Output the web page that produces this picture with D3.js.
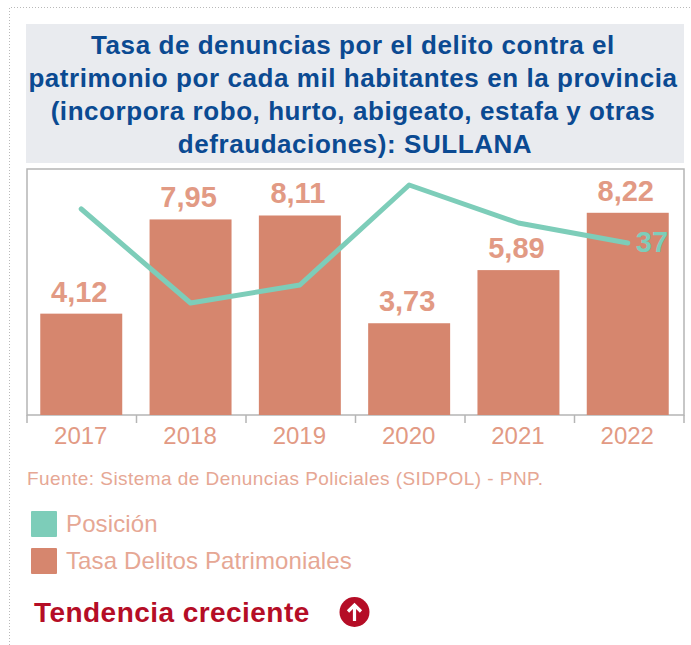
<!DOCTYPE html>
<html>
<head>
<meta charset="utf-8">
<script src="https://cdn.jsdelivr.net/npm/d3@7"></script>
<style>
  html, body { margin: 0; padding: 0; background: #fff; }
  svg { display: block; font-family: 'Liberation Sans', Arial, sans-serif; }
</style>
</head>
<body>
<div id="chart"></div>
<script>
const years = ['2017', '2018', '2019', '2020', '2021', '2022']
const tasa = [4.12, 7.95, 8.11, 3.73, 5.89, 8.22]
const posicion = [20, 67, 58, 8, 27, 37]
const titleLines = [
  'Tasa de denuncias por el delito contra el',
  'patrimonio por cada mil habitantes en la provincia',
  '(incorpora robo, hurto, abigeato, estafa y otras',
  'defraudaciones): SULLANA'
]
const legendItems = ['Posición', 'Tasa Delitos Patrimoniales']
const fuente = 'Fuente: Sistema de Denuncias Policiales (SIDPOL) - PNP.'
const tendencia = 'Tendencia creciente'

const width = 691
const height = 645
const salmon = '#d6866e'
const salmonText = '#e29a84'
const teal = '#7dcdb9'
const plot = { left: 27, right: 684, top: 169, bottom: 415 }

const svg = d3.select('#chart').append('svg')
  .attr('width', width)
  .attr('height', height)

// dotted frame of the page, open on the right and bottom
svg.append('path')
  .attr('d', `M9.5,${height} V7.5 H${width}`)
  .attr('fill', 'none')
  .attr('stroke', '#b9b9b9')
  .attr('stroke-dasharray', '1 2')

// title
svg.append('rect')
  .attr('x', 26).attr('y', 24)
  .attr('width', 658).attr('height', 139)
  .attr('fill', '#e9ebef')

svg.append('g').selectAll('text')
  .data(titleLines).enter().append('text')
    .text(d => d)
    .attr('x', (d, i) => i === 3 ? 355 : 353)
    .attr('y', (d, i) => 54 + i * 33)
    .attr('text-anchor', 'middle')
    .attr('font-size', 26)
    .attr('font-weight', 700)
    .attr('letter-spacing', 0.56)
    .attr('fill', '#0b4a92')

// scales
const x = d3.scaleBand()
  .domain(years)
  .range([26.6, 682.4])
  .paddingInner(0.25)
  .paddingOuter(0.125)

const y = d3.scaleLinear().domain([0, 10]).range([plot.bottom, plot.top])
const yPos = d3.scaleLinear().domain([0, 123]).range([plot.top, plot.bottom])

// plot border
svg.append('rect')
  .attr('x', plot.left).attr('y', plot.top)
  .attr('width', plot.right - plot.left).attr('height', plot.bottom - plot.top)
  .attr('fill', 'none')
  .attr('stroke', '#b5b5b5')
  .attr('stroke-width', 1.5)

// bars
svg.append('g').selectAll('rect')
  .data(years).enter().append('rect')
    .attr('x', d => x(d))
    .attr('y', (d, i) => y(tasa[i]))
    .attr('width', x.bandwidth())
    .attr('height', (d, i) => plot.bottom - y(tasa[i]))
    .attr('fill', salmon)

svg.append('g').selectAll('text')
  .data(years).enter().append('text')
    .text((d, i) => tasa[i].toFixed(2).replace('.', ','))
    .attr('x', d => x(d) + x.bandwidth() / 2 - 2)
    .attr('y', (d, i) => y(tasa[i]) - 12)
    .attr('text-anchor', 'middle')
    .attr('font-size', 29)
    .attr('font-weight', 700)
    .attr('fill', salmonText)

// x axis
const xAxis = d3.axisBottom(x).tickSize(0).tickPadding(12)
const axisG = svg.append('g')
  .attr('transform', `translate(-0.5, ${plot.bottom})`)
  .call(xAxis)
axisG.select('.domain').remove()
axisG.selectAll('text')
  .attr('font-size', 24)
  .attr('font-family', "'Liberation Sans', Arial, sans-serif")
  .attr('fill', salmonText)

const tickStep = (plot.right - plot.left) / years.length
svg.append('g').selectAll('line')
  .data(d3.range(years.length + 1)).enter().append('line')
    .attr('x1', d => plot.left + d * tickStep)
    .attr('x2', d => plot.left + d * tickStep)
    .attr('y1', plot.bottom)
    .attr('y2', plot.bottom + 8)
    .attr('stroke', '#b5b5b5')
    .attr('stroke-width', 1.5)

// rank line
const line = d3.line()
  .x((d, i) => x(years[i]) + x.bandwidth() / 2)
  .y(d => yPos(d))

svg.append('path')
  .datum(posicion)
  .attr('d', line)
  .attr('fill', 'none')
  .attr('stroke', teal)
  .attr('stroke-width', 5)
  .attr('stroke-linecap', 'round')
  .attr('stroke-linejoin', 'round')

svg.append('text')
  .text(posicion[5])
  .attr('x', x(years[5]) + x.bandwidth() / 2 + 8)
  .attr('y', yPos(posicion[5]) + 9)
  .attr('font-size', 29)
  .attr('font-weight', 700)
  .attr('fill', teal)

// source
svg.append('text')
  .text(fuente)
  .attr('x', 27)
  .attr('y', 485)
  .attr('font-size', 19)
  .attr('letter-spacing', 0.45)
  .attr('fill', '#e6a794')

// legend
const legend = svg.append('g')
legend.selectAll('rect')
  .data(legendItems).enter().append('rect')
    .attr('x', 31)
    .attr('y', (d, i) => 511 + i * 37)
    .attr('width', 26)
    .attr('height', 26)
    .attr('rx', 1)
    .attr('fill', (d, i) => i === 0 ? teal : salmon)

legend.selectAll('text')
  .data(legendItems).enter().append('text')
    .text(d => d)
    .attr('x', 66)
    .attr('y', (d, i) => 532 + i * 37)
    .attr('font-size', 24)
    .attr('letter-spacing', 0.12)
    .attr('fill', '#e6a794')

// trend
svg.append('text')
  .text(tendencia)
  .attr('x', 34)
  .attr('y', 622)
  .attr('font-size', 28)
  .attr('font-weight', 700)
  .attr('letter-spacing', 0.45)
  .attr('fill', '#b50d26')

const arrow = svg.append('g').attr('transform', 'translate(354.5, 612)')
arrow.append('circle').attr('r', 15).attr('fill', '#b50d26')
arrow.append('path')
  .attr('d', 'M0,9 V-7 M-6.5,-0.5 L0,-7 L6.5,-0.5')
  .attr('fill', 'none')
  .attr('stroke', '#fff')
  .attr('stroke-width', 3.2)
</script>
</body>
</html>
